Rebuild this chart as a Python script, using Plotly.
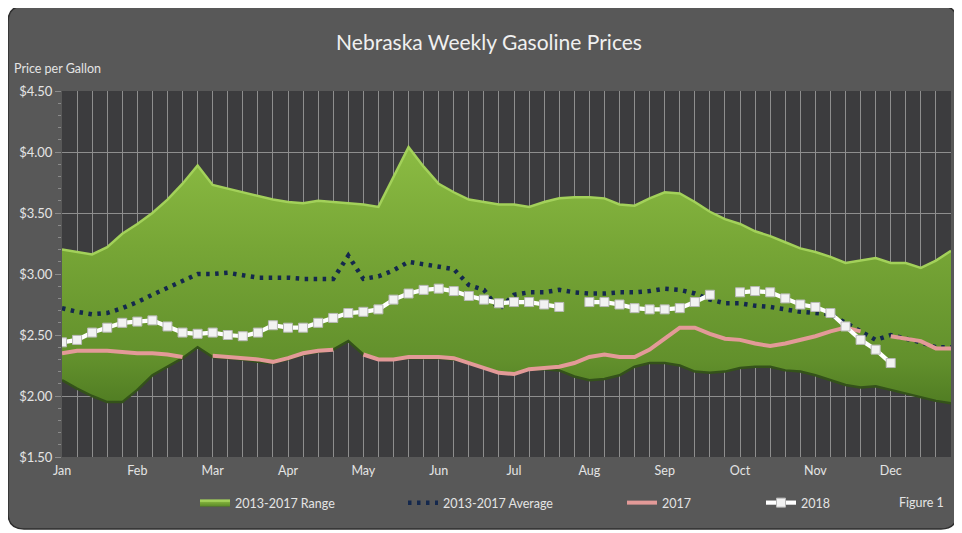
import plotly.graph_objects as go

# ---------------- data (60 weekly slots: 5 per month) ----------------
slot = list(range(60))
months = ["Jan", "Feb", "Mar", "Apr", "May", "Jun", "Jul", "Aug", "Sep", "Oct", "Nov", "Dec"]
month_slot = [0, 5, 10, 15, 20, 25, 30, 35, 40, 45, 50, 55]

range_high = [3.20, 3.18, 3.16, 3.22, 3.33, 3.41, 3.50, 3.61, 3.74, 3.89,
              3.73, 3.70, 3.67, 3.64, 3.61, 3.59, 3.58, 3.60, 3.59, 3.58,
              3.57, 3.55, 3.80, 4.04, 3.88, 3.74, 3.67, 3.61, 3.59, 3.57,
              3.57, 3.55, 3.59, 3.62, 3.63, 3.63, 3.62, 3.57, 3.56, 3.62,
              3.67, 3.66, 3.59, 3.51, 3.45, 3.41, 3.35, 3.31, 3.26, 3.21,
              3.18, 3.14, 3.09, 3.11, 3.13, 3.09, 3.09, 3.05, 3.11, 3.19]

range_low = [2.13, 2.06, 2.00, 1.95, 1.95, 2.05, 2.17, 2.24, 2.31, 2.40,
             2.32, 2.31, 2.30, 2.28, 2.27, 2.30, 2.34, 2.36, 2.38, 2.45,
             2.34, 2.30, 2.30, 2.31, 2.31, 2.31, 2.30, 2.27, 2.23, 2.19,
             2.18, 2.22, 2.22, 2.21, 2.16, 2.13, 2.14, 2.17, 2.24, 2.27,
             2.27, 2.25, 2.20, 2.19, 2.20, 2.23, 2.24, 2.24, 2.21, 2.20,
             2.17, 2.13, 2.09, 2.07, 2.08, 2.05, 2.02, 1.99, 1.96, 1.94]

avg_13_17 = [2.72, 2.69, 2.67, 2.68, 2.72, 2.77, 2.83, 2.89, 2.95, 3.00,
             3.00, 3.01, 2.99, 2.97, 2.97, 2.97, 2.96, 2.96, 2.96, 3.15,
             2.96, 2.98, 3.03, 3.10, 3.08, 3.06, 3.04, 2.91, 2.87, 2.71,
             2.83, 2.85, 2.85, 2.87, 2.85, 2.84, 2.84, 2.85, 2.85, 2.86,
             2.88, 2.87, 2.84, 2.79, 2.76, 2.76, 2.74, 2.73, 2.71, 2.69,
             2.68, 2.67, 2.60, 2.53, 2.46, 2.50, 2.47, 2.44, 2.40, 2.40]

y2017 = [2.35, 2.37, 2.37, 2.37, 2.36, 2.35, 2.35, 2.34, 2.32, None,
         2.33, 2.32, 2.31, 2.30, 2.28, 2.31, 2.35, 2.37, 2.38, None,
         2.34, 2.30, 2.30, 2.32, 2.32, 2.32, 2.31, 2.27, 2.23, 2.19,
         2.18, 2.22, 2.23, 2.24, 2.27, 2.32, 2.34, 2.32, 2.32, 2.38,
         2.47, 2.56, 2.56, 2.51, 2.47, 2.46, 2.43, 2.41, 2.43, 2.46,
         2.49, 2.53, 2.56, 2.53, None, 2.49, 2.47, 2.45, 2.39, 2.39]

y2018 = [2.44, 2.46, 2.52, 2.56, 2.60, 2.61, 2.62, 2.57, 2.52, 2.51,
         2.52, 2.50, 2.49, 2.52, 2.58, 2.56, 2.56, 2.60, 2.64, 2.68,
         2.69, 2.71, 2.79, 2.84, 2.87, 2.88, 2.86, 2.82, 2.79, 2.76,
         2.77, 2.77, 2.75, 2.73, None, 2.77, 2.77, 2.75, 2.72, 2.71,
         2.71, 2.72, 2.77, 2.83, None, 2.85, 2.86, 2.85, 2.80, 2.75,
         2.73, 2.68, 2.57, 2.46, 2.38, 2.27, None, None, None, None]

y_ticks = [1.5, 2.0, 2.5, 3.0, 3.5, 4.0, 4.5]

# ---------------- geometry helpers (page pixels -> paper) ----------------
OFF = 8                      # default body margin of the html page
W, H = 962 - OFF, 533 - OFF  # figure size so the page does not overflow
PL, PR, PT, PB = 62, 951, 91, 457   # plot area in page pixels
ML, MR, MT, MB = PL - OFF, W - (PR - OFF), PT - OFF, H - (PB - OFF)
PW, PH = W - ML - MR, H - MT - MB


def px(x):
    return (x - PL) / PW


def py(y):
    return (PB - y) / PH


FONT = "Lato, 'Open Sans', sans-serif"
TXT = "#e4e4e4"
GRID = "#8e8e8e"

fig = go.Figure()

fig.add_trace(go.Scatter(
    x=slot, y=range_low, mode="lines", line=dict(color="#34521a", width=2.5),
    showlegend=False, hoverinfo="skip"))
fig.add_trace(go.Scatter(
    x=slot, y=range_high, mode="lines", fill="tonexty", name="2013-2017 Range",
    line=dict(color="#a3d15a", width=2.5),
    fillgradient=dict(type="vertical", start=1.9, stop=4.1,
                      colorscale=[[0, "#4f7b22"], [0.18, "#62902c"], [0.6, "#77a636"], [1, "#8dbd44"]]),
    legend="legend"))
fig.add_trace(go.Scatter(
    x=slot, y=avg_13_17, mode="lines", name="2013-2017 Average",
    line=dict(color="#14284d", width=4.5, dash="3.5px,5.5px"),
    legend="legend2"))
fig.add_trace(go.Scatter(
    x=slot, y=y2017, mode="lines", name="2017", connectgaps=False,
    line=dict(color="#e39a98", width=4),
    legend="legend3"))
fig.add_trace(go.Scatter(
    x=slot, y=y2018, mode="lines+markers", name="2018", connectgaps=False,
    line=dict(color="#ffffff", width=4.2),
    marker=dict(symbol="square", size=9, color="#f2f2f2", line=dict(color="#b8b8b8", width=1)),
    legend="legend4"))

# rounded panel behind everything, then the dark plot area
x0, x1, y0, y1 = px(8), px(957), py(529), py(6)
rx, ry = 16 / PW, 16 / PH
panel = (f"M {x0+rx},{y0} L {x1-rx},{y0} Q {x1},{y0} {x1},{y0+ry} "
         f"L {x1},{y1-ry} Q {x1},{y1} {x1-rx},{y1} L {x0+rx},{y1} "
         f"Q {x0},{y1} {x0},{y1-ry} L {x0},{y0+ry} Q {x0},{y0} {x0+rx},{y0} Z")

shapes = [
    dict(type="path", path=panel, xref="paper", yref="paper", layer="below",
         fillcolor="#585858", line=dict(color="#2e2e2e", width=1.5)),
    dict(type="rect", x0=0, x1=1, y0=0, y1=1, xref="paper", yref="paper", layer="below",
         fillcolor="#3c3c3e", line=dict(width=0)),
]

leg_common = dict(orientation="h", yanchor="middle", y=py(503), xanchor="left",
                  bgcolor="rgba(0,0,0,0)", font=dict(family=FONT, size=12.5, color=TXT),
                  itemwidth=30, tracegroupgap=0)

fig.update_layout(
    width=W, height=H, autosize=False,
    margin=dict(l=ML, r=MR, t=MT, b=MB),
    paper_bgcolor="#ffffff", plot_bgcolor="rgba(0,0,0,0)",
    font=dict(family=FONT, color=TXT, size=12),
    title=dict(text="Nebraska Weekly Gasoline Prices", x=px(489), xref="paper", xanchor="center",
               y=1 - (43 - OFF) / H, yref="container", yanchor="middle",
               font=dict(family=FONT, size=21, color="#f0f0f0")),
    shapes=shapes,
    xaxis=dict(range=[0, 59], tickmode="array", tickvals=month_slot, ticktext=months,
               showgrid=True, gridcolor=GRID, gridwidth=1, zeroline=False, showline=False,
               ticks="", ticklabelstandoff=4, tickfont=dict(family=FONT, size=12.5, color=TXT),
               minor=dict(tickmode="linear", tick0=0, dtick=1, showgrid=True, gridcolor=GRID, gridwidth=1)),
    yaxis=dict(range=[1.5, 4.5], tickmode="array", tickvals=y_ticks, tickformat="$.2f",
               showgrid=True, gridcolor=GRID, gridwidth=1, zeroline=False, showline=False,
               ticks="outside", ticklen=6, tickcolor="#8a8a8a",
               tickfont=dict(family=FONT, size=13, color=TXT),
               minor=dict(tickmode="linear", tick0=1.5, dtick=0.1, ticks="outside", ticklen=3,
                          tickcolor="#8a8a8a", showgrid=False)),
    legend=dict(leg_common, x=px(195)),
    legend2=dict(leg_common, x=px(403)),
    legend3=dict(leg_common, x=px(622)),
    legend4=dict(leg_common, x=px(761)),
    annotations=[
        dict(text="Price per Gallon", x=px(12), y=py(68), xref="paper", yref="paper",
             xanchor="left", yanchor="middle", showarrow=False,
             font=dict(family=FONT, size=12.5, color=TXT)),
        dict(text="Figure 1", x=px(946), y=py(503), xref="paper", yref="paper",
             xanchor="right", yanchor="middle", showarrow=False,
             font=dict(family=FONT, size=12.5, color=TXT)),
    ],
    hovermode=False,
)

fig.write_html("out.html")
